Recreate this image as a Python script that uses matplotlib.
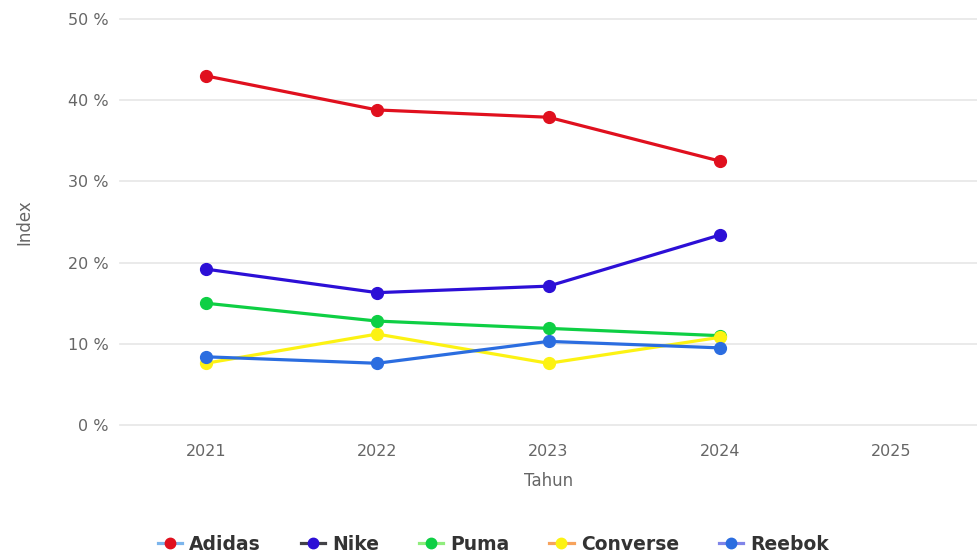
import numpy as np
import matplotlib.pyplot as plt
from matplotlib.lines import Line2D

years = [2021, 2022, 2023, 2024]
all_years = [2021, 2022, 2023, 2024, 2025]

brands = ["Adidas", "Nike", "Puma", "Converse", "Reebok"]
adidas = [43.0, 38.8, 37.9, 32.5]
nike = [19.2, 16.3, 17.1, 23.4]
puma = [15.0, 12.8, 11.9, 11.0]
converse = [7.6, 11.2, 7.6, 10.8]
reebok = [8.4, 7.6, 10.3, 9.5]

series = [adidas, nike, puma, converse, reebok]
colors = ["#e0101e", "#2c0fd6", "#0ecf44", "#fcf213", "#2b6de0"]
# legend line colours differ from markers (default palette leftovers)
legend_line = ["#7cb5ec", "#434348", "#90ed7d", "#f7a35c", "#8085e9"]

plt.rcParams["font.family"] = ["DejaVu Sans"]

fig = plt.figure(figsize=(9.77, 5.56), dpi=100)
ax = fig.add_axes([120/977, 1 - 425/556, 1 - 120/977, (425 - 19)/556])

for i, (name, vals) in enumerate(zip(brands, series)):
    ax.plot(years, vals, color=colors[i], lw=2.3, marker="o", ms=8.5,
            zorder=3 + i, solid_capstyle="round", clip_on=False)

ax.set_xlim(2020.5, 2025.5)
ax.set_ylim(0, 50)
ax.set_xticks(all_years)
ax.set_yticks(np.arange(0, 51, 10))
ax.set_yticklabels([f"{v} %" for v in range(0, 51, 10)])
ax.tick_params(axis="both", length=0, colors="#666666", labelsize=11.5)
ax.tick_params(axis="y", pad=8)
ax.tick_params(axis="x", pad=14)
for v in range(0, 51, 10):
    ax.axhline(v, color="#e6e6e6", lw=1.2, zorder=1, clip_on=False)
for s in ax.spines.values():
    s.set_visible(False)

ax.set_xlabel("Tahun", color="#666666", fontsize=12, labelpad=9)
ax.set_ylabel("Index", color="#666666", fontsize=12, labelpad=25)

handles = [Line2D([0], [0], color=legend_line[i], lw=2.3, marker="o", ms=7.5,
                  markerfacecolor=colors[i], markeredgecolor=colors[i])
           for i in range(len(brands))]
leg = fig.legend(handles, brands, loc="center", ncol=5, frameon=False,
                 bbox_to_anchor=(0.505, 1 - 544/556), handlelength=1.3,
                 handletextpad=0.4, columnspacing=2.1,
                 prop={"weight": "bold", "size": 13.5})
for t in leg.get_texts():
    t.set_color("#333333")

fig.savefig("out.png", dpi=100)
